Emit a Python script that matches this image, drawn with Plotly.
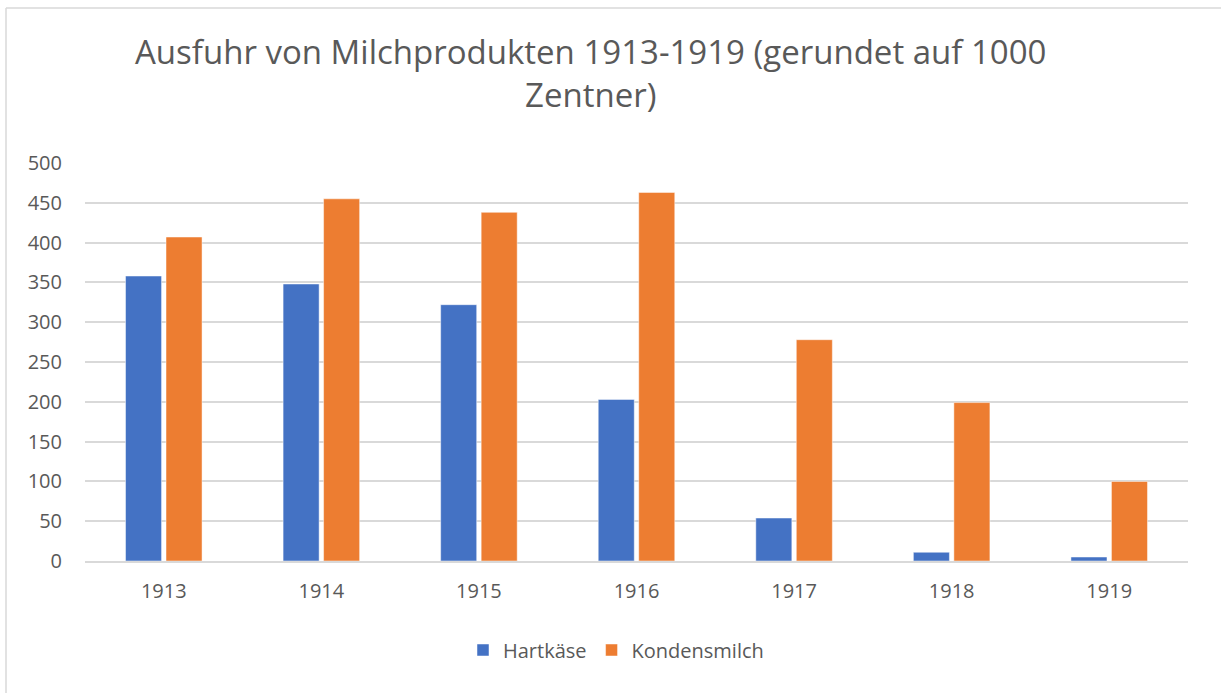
import plotly.graph_objects as go

years = ["1913", "1914", "1915", "1916", "1917", "1918", "1919"]
hartkaese = [358, 348, 322, 203, 54, 11, 5]
kondensmilch = [407, 455, 438, 463, 278, 199, 100]
y_ticks = [0, 50, 100, 150, 200, 250, 300, 350, 400, 450, 500]

W, H = 1221, 693
L, R, T, B = 85, 1188, 163, 561

FONT = "Open Sans"
GREY = "#595959"

fig = go.Figure()
fig.add_trace(go.Bar(name="Hartkäse", x=years, y=hartkaese,
                     marker=dict(color="#4472C4", line=dict(color="rgba(255,255,255,0.6)", width=0.8))))
fig.add_trace(go.Bar(name="Kondensmilch", x=years, y=kondensmilch,
                     marker=dict(color="#ED7D31", line=dict(color="rgba(255,255,255,0.6)", width=0.8))))

def px_x(p):
    return (p - L) / (R - L)

def px_y(p):
    return (B - p) / (B - T)

fig.update_layout(
    width=W, height=H,
    margin=dict(l=L, r=W - R, t=T, b=H - B, pad=0),
    paper_bgcolor="white", plot_bgcolor="white",
    barmode="group", bargap=0.486, bargroupgap=0.11,
    font=dict(family=FONT, size=20, color=GREY),
    showlegend=True,
    legend=dict(orientation="h", x=px_x(616), xanchor="center", y=px_y(650), yanchor="middle",
                font=dict(family=FONT, size=20, color=GREY), itemwidth=30,
                traceorder="normal", bgcolor="rgba(0,0,0,0)"),
    xaxis=dict(showgrid=False, showline=True, linecolor="#D9D9D9", linewidth=1.5,
               ticks="", ticklabelstandoff=11, tickfont=dict(size=20, color=GREY)),
    yaxis=dict(range=[0, 500], tickvals=y_ticks, showgrid=True, gridcolor="#D9D9D9", gridwidth=1.5,
               zeroline=False, showline=False, ticks="", ticklabelstandoff=22,
               tickfont=dict(size=20, color=GREY)),
    annotations=[
        dict(text="Ausfuhr von Milchprodukten 1913-1919 (gerundet auf 1000<br>Zentner)",
             xref="paper", yref="paper", x=px_x(590), y=px_y(27), xanchor="center", yanchor="top",
             showarrow=False, align="center",
             font=dict(family=FONT, size=33, color=GREY)),
    ],
    shapes=[
        dict(type="line", xref="paper", yref="paper", x0=px_x(6), x1=px_x(1240), y0=px_y(8), y1=px_y(8),
             line=dict(color="#D9D9D9", width=1.5)),
        dict(type="line", xref="paper", yref="paper", x0=px_x(6), x1=px_x(6), y0=px_y(8), y1=px_y(710),
             line=dict(color="#D9D9D9", width=1.5)),
    ],
)

fig.write_html("out.html", config={"displayModeBar": False},
               post_script="document.body.style.margin='0';document.body.style.padding='0';")
